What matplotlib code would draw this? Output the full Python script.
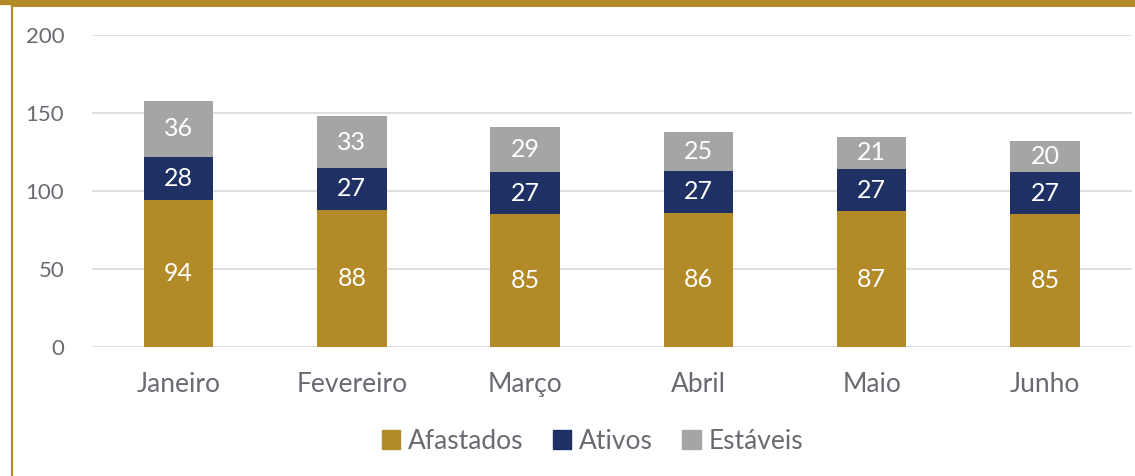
import matplotlib.pyplot as plt
from matplotlib.patches import Rectangle
from matplotlib.lines import Line2D
import numpy as np

plt.rcParams['font.family'] = ['Lato', 'DejaVu Sans']

meses = ["Janeiro", "Fevereiro", "Março", "Abril", "Maio", "Junho"]
afastados = [94, 88, 85, 86, 87, 85]
ativos = [28, 27, 27, 27, 27, 27]
estaveis = [36, 33, 29, 25, 21, 20]

C_GOLD = "#B38A28"
C_NAVY = "#1F3064"
C_GRAY = "#A5A5A5"
C_TEXT = "#6B6A72"

fig = plt.figure(figsize=(11.35, 4.76), dpi=100)
ax = fig.add_axes([0.081, 0.271, 0.916, 0.655])

x = np.arange(len(meses))
w = 0.40
b1 = ax.bar(x, afastados, w, color=C_GOLD, label="Afastados", zorder=3)
b2 = ax.bar(x, ativos, w, bottom=afastados, color=C_NAVY, label="Ativos", zorder=3)
base3 = np.array(afastados) + np.array(ativos)
b3 = ax.bar(x, estaveis, w, bottom=base3, color=C_GRAY, label="Estáveis", zorder=3)

for bars in (b1, b2, b3):
    ax.bar_label(bars, label_type="center", color="white", fontsize=18)

ax.set_ylim(0, 200)
ax.set_xlim(-0.5, len(meses) - 0.5)
ax.set_yticks([0, 50, 100, 150, 200])
ax.yaxis.grid(True, color="#D9D9D9", linewidth=1.2, zorder=0)
for s in ax.spines.values():
    s.set_visible(False)
ax.tick_params(axis="both", length=0, colors=C_TEXT)
ax.tick_params(axis="y", labelsize=16, pad=20)
ax.tick_params(axis="x", labelsize=19, pad=18)
ax.set_xticks(x)
ax.set_xticklabels(meses)

handles = [Rectangle((0, 0), 1, 1, color=c) for c in (C_GOLD, C_NAVY, C_GRAY)]
fig.legend(handles, ["Afastados", "Ativos", "Estáveis"], loc="center",
           bbox_to_anchor=(0.522, 0.073), ncol=3, frameon=False, fontsize=19,
           labelcolor=C_TEXT, handlelength=0.7, handleheight=0.7,
           handletextpad=0.3, columnspacing=1.1)

# gold frame at top and left
H = 476.0
Wd = 1135.0
fig.patches.append(Rectangle((0, 1 - 4 / H), 1, 4 / H, transform=fig.transFigure,
                             color=C_GOLD, zorder=0))
fig.lines.append(Line2D([11.5 / Wd, 1], [1 - 5.8 / H, 1 - 5.8 / H],
                        transform=fig.transFigure, color=C_GOLD, linewidth=1.5))
fig.lines.append(Line2D([12 / Wd, 12 / Wd], [0, 1 - 5.8 / H],
                        transform=fig.transFigure, color=C_GOLD, linewidth=1.5))

fig.savefig("out.png", dpi=100, facecolor="white")
